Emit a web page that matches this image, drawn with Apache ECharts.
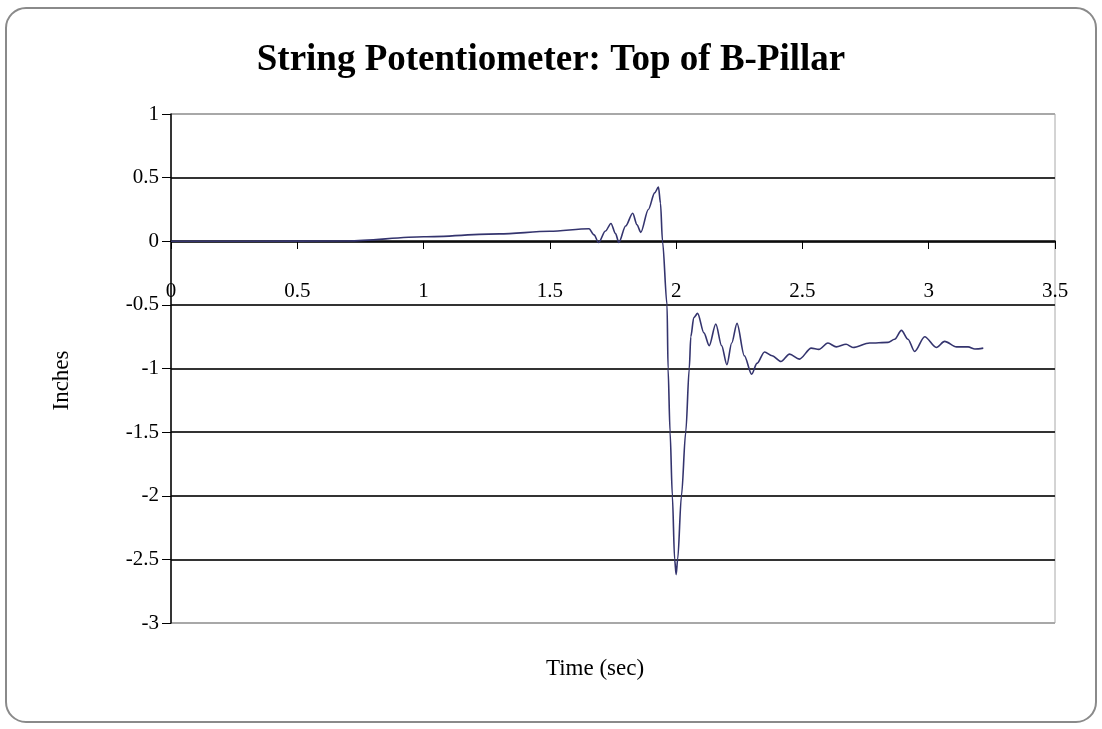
<!DOCTYPE html>
<html>
<head>
<meta charset="utf-8">
<title>String Potentiometer: Top of B-Pillar</title>
<script src="https://cdn.jsdelivr.net/npm/echarts@6/dist/echarts.min.js"></script>
<style>
  html, body { margin: 0; padding: 0; background: #fff; }
  #chart { width: 1102px; height: 729px; }
</style>
</head>
<body>
<div id="chart"></div>
<script>
// 时间 (sec) 和位移 (inches)
const timeSec = [
  0, 0.3, 0.7, 1.0, 1.3, 1.5, 1.655, 1.675, 1.693, 1.72, 1.742, 1.76, 1.773,
  1.8, 1.828, 1.845, 1.86, 1.89, 1.915, 1.93, 1.938, 1.946, 1.964, 1.968,
  1.976, 1.985, 1.994, 2.0, 2.006, 2.021, 2.038, 2.052, 2.058, 2.07, 2.085,
  2.11, 2.131, 2.157, 2.18, 2.201, 2.22, 2.241, 2.27, 2.299, 2.32, 2.35,
  2.38, 2.415, 2.449, 2.488, 2.535, 2.565, 2.601, 2.634, 2.673, 2.7, 2.766,
  2.839, 2.865, 2.892, 2.918, 2.944, 2.984, 3.03, 3.063, 3.11, 3.156, 3.183,
  3.216
];
const inches = [
  0, 0, 0.002, 0.035, 0.058, 0.078, 0.098, 0.05, -0.01, 0.08, 0.14, 0.06, -0.01,
  0.12, 0.22, 0.13, 0.07, 0.25, 0.38, 0.425, 0.3, 0, -0.5, -1.0,
  -1.5, -2.0, -2.5, -2.62, -2.5, -2.0, -1.5, -1.0, -0.75, -0.6, -0.567,
  -0.72, -0.82, -0.65, -0.82, -0.97, -0.8, -0.645, -0.9, -1.045, -0.96, -0.87,
  -0.9, -0.945, -0.887, -0.926, -0.84, -0.85, -0.8, -0.83, -0.81, -0.835, -0.8,
  -0.795, -0.77, -0.7, -0.77, -0.866, -0.75, -0.835, -0.787, -0.83, -0.83, -0.847,
  -0.84
];
const xTicks = ['0', '0.5', '1', '1.5', '2', '2.5', '3', '3.5'];
const yTicks = ['-3', '-2.5', '-2', '-1.5', '-1', '-0.5', '0', '0.5', '1'];

const serif = 'Liberation Serif';
const chart = echarts.init(document.getElementById('chart'));

// 曲线数据点
const points = timeSec.map((t, i) => [t, inches[i]]);

// 绘图区 top 114, bottom 623 -> y=0 在 241 左右, x轴整体上移
const xAxisShift = -382;

chart.setOption({
  backgroundColor: '#fff',
  animation: false,
  title: {
    text: 'String Potentiometer: Top of B-Pillar',
    left: 'center',
    top: 42,
    padding: 0,
    textStyle: { fontFamily: serif, fontSize: 37, fontWeight: 'bold', color: '#000' }
  },
  graphic: [{
    type: 'rect',
    z: -1,
    shape: { x: 6, y: 8, width: 1090, height: 714, r: 20 },
    style: { fill: 'none', stroke: '#8a8a8a', lineWidth: 2 }
  }],
  grid: {
    left: 171, right: 47, top: 114, bottom: 106,
    outerBoundsMode: 'none',
    containLabel: false,
    show: true, borderColor: '#a8a8a8', borderWidth: 1
  },
  xAxis: {
    type: 'value',
    min: 0, max: 3.5, interval: 0.5,
    offset: xAxisShift,
    name: 'Time (sec)',
    nameLocation: 'middle',
    nameGap: 416,
    nameTextStyle: { fontFamily: serif, fontSize: 23, color: '#000', padding: [0, 36, 0, 0] },
    axisLine: { onZero: false, lineStyle: { color: '#000', width: 1.5 } },
    axisTick: { show: true, length: 8, lineStyle: { color: '#000' } },
    axisLabel: {
      margin: 40, fontFamily: serif, fontSize: 21, color: '#000',
      formatter: v => xTicks[Math.round(v / 0.5)]
    },
    splitLine: { show: false }
  },
  yAxis: {
    type: 'value',
    min: -3, max: 1, interval: 0.5,
    name: 'Inches',
    nameLocation: 'middle',
    nameRotate: 90,
    nameGap: 98,
    nameTextStyle: { fontFamily: serif, fontSize: 23, color: '#000', padding: [0, 24, 0, 0] },
    axisLine: { show: true, lineStyle: { color: '#000', width: 1.5 } },
    axisTick: { show: true, length: 9, lineStyle: { color: '#000' } },
    axisLabel: {
      margin: 12, fontFamily: serif, fontSize: 21, color: '#000',
      formatter: v => yTicks[Math.round((v + 3) / 0.5)]
    },
    splitLine: {
      show: true,
      lineStyle: {
        color: ['#a8a8a8', '#333', '#333', '#333', '#333', '#333', '#333', '#333', '#a8a8a8'],
        width: 2
      }
    }
  },
  series: [{
    type: 'line',
    data: points,
    showSymbol: false,
    smooth: 0.3,
    smoothMonotone: 'x',
    lineStyle: { color: '#34346e', width: 1.6 },
    z: 5
  }]
});
</script>
</body>
</html>
